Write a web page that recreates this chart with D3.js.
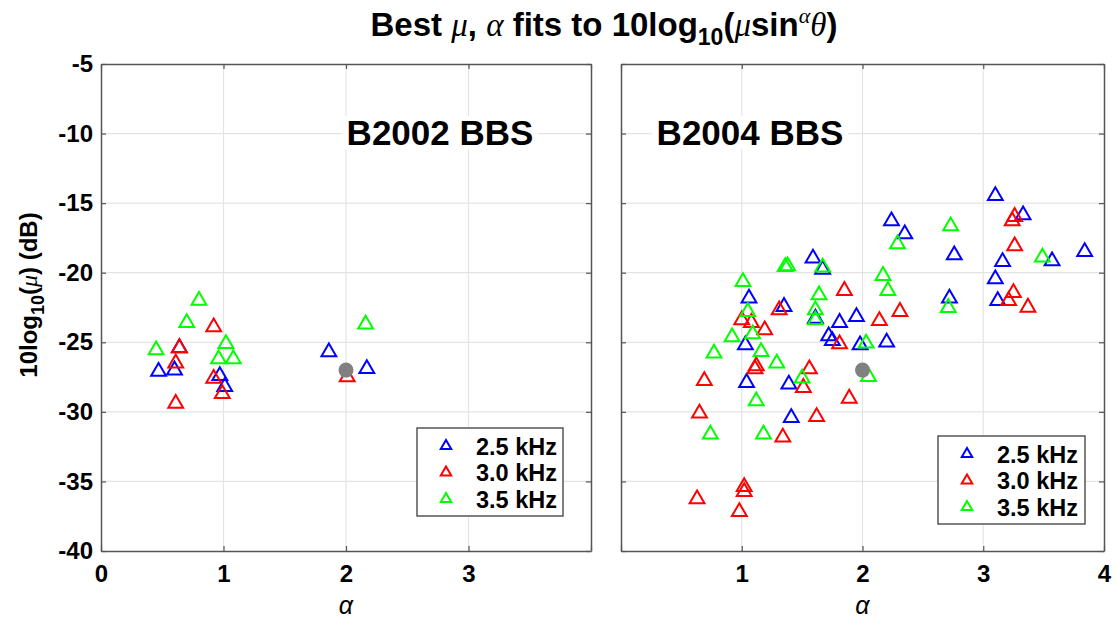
<!DOCTYPE html>
<html>
<head>
<meta charset="utf-8">
<script src="https://d3js.org/d3.v7.min.js"></script>
<style>
  body { margin: 0; background: #fff; }
  text { font-family: "Liberation Sans", Arial, sans-serif; }
</style>
</head>
<body>
<div id="chart"></div>
<script>
// ---- data (alpha, 10log10(mu) in dB) ----
const alphaTicks = [0, 1, 2, 3, 4];
const dbTicks = [-40, -35, -30, -25, -20, -15, -10, -5];
const seriesNames = ["2.5 kHz", "3.0 kHz", "3.5 kHz"];
const seriesColors = ["#0000ff", "#ff0000", "#00ff00"];

// B2002 BBS
const b2002_25 = [[0.64,-25.4],[0.47,-27.1],[0.60,-27.0],[0.97,-27.4],[1.01,-28.2],[1.86,-25.7],[2.17,-26.9]];
const b2002_30 = [[0.92,-23.9],[0.64,-25.4],[0.61,-26.5],[0.92,-27.6],[0.99,-28.7],[0.61,-29.4],[2.01,-27.5]];
const b2002_35 = [[0.80,-22.0],[0.70,-23.6],[0.45,-25.55],[1.02,-25.1],[0.96,-26.2],[1.08,-26.2],[2.16,-23.7]];
const b2002_ref = [[2.0,-27.0]];

// B2004 BBS
const b2004_25 = [[1.59,-18.96],[1.67,-19.76],[1.06,-21.84],[1.35,-22.44],[1.61,-23.28],[1.81,-23.59],[1.95,-23.16],
  [1.72,-24.55],[1.75,-24.89],[1.03,-25.2],[1.98,-25.2],[3.10,-14.47],[3.33,-15.85],[2.24,-16.28],[2.35,-17.22],
  [2.76,-18.73],[3.16,-19.21],[3.57,-19.16],[3.84,-18.49],[3.10,-20.45],[2.72,-21.84],[3.12,-22.01],[2.20,-25.0],
  [1.04,-27.9],[1.39,-28.02],[1.41,-30.42]];
const b2004_30 = [[1.85,-21.29],[1.31,-22.68],[1.0,-23.4],[1.08,-23.59],[1.19,-24.12],[1.81,-25.12],[1.12,-26.7],
  [1.11,-26.92],[1.56,-26.92],[1.51,-28.26],[0.69,-27.76],[1.89,-29.03],[0.65,-30.1],[1.62,-30.35],[1.34,-31.83],
  [1.02,-35.38],[1.02,-35.74],[0.63,-36.26],[0.98,-37.18],[3.26,-15.97],[3.24,-16.28],[3.26,-18.08],[3.25,-21.44],
  [3.21,-22.01],[3.37,-22.49],[2.31,-22.8],[2.14,-23.45]];
const b2004_35 = [[1.36,-19.57],[1.38,-19.52],[1.67,-19.61],[1.01,-20.65],[1.64,-21.6],[1.61,-22.68],[1.61,-23.4],
  [1.05,-22.8],[0.92,-24.62],[1.09,-24.4],[1.16,-25.68],[0.77,-25.79],[1.29,-26.51],[1.50,-27.59],[1.12,-29.22],
  [0.74,-31.61],[1.18,-31.61],[2.05,-27.47],[2.73,-16.64],[2.29,-17.94],[3.49,-18.89],[2.17,-20.21],[2.21,-21.29],
  [2.71,-22.51],[2.03,-25.07]];
const b2004_ref = [[2.0,-27.0]];

const width = 1117, height = 619;
const plotTop = 64, plotBottom = 551;
const boxColor = "#555", gridColor = "#e4e4e4";

const svg = d3.create("svg").attr("width", width).attr("height", height);
document.getElementById("chart").appendChild(svg.node());

const yScale = d3.scaleLinear().domain([-40, -5]).range([plotBottom, plotTop]);

const panels = [
  { name: "B2002 BBS", x0: 101, x1: 591, labels: [0, 1, 2, 3], leftLabels: true,
    series: [b2002_25, b2002_30, b2002_35], ref: b2002_ref,
    legend: { x: 417, y: 428, w: 146, h: 88 }, tag: { x: 440, y: 132 } },
  { name: "B2004 BBS", x0: 621, x1: 1104, labels: [1, 2, 3, 4], leftLabels: false,
    series: [b2004_25, b2004_30, b2004_35], ref: b2004_ref,
    legend: { x: 938, y: 436, w: 147, h: 88 }, tag: { x: 750, y: 132 } }
];

const tri = d3.symbol().type(d3.symbolTriangle).size(95);
const triSmall = d3.symbol().type(d3.symbolTriangle).size(48);

panels.forEach(p => {
  const x = d3.scaleLinear().domain([0, 4]).range([p.x0, p.x1]);
  const g = svg.append("g");

  // grid
  g.append("g").selectAll("line").data(alphaTicks.slice(1, -1)).join("line")
    .attr("x1", d => x(d)).attr("x2", d => x(d)).attr("y1", plotTop).attr("y2", plotBottom)
    .attr("stroke", gridColor).attr("stroke-width", 1.2);
  g.append("g").selectAll("line").data(dbTicks.slice(1, -1)).join("line")
    .attr("x1", p.x0).attr("x2", p.x1).attr("y1", d => yScale(d)).attr("y2", d => yScale(d))
    .attr("stroke", gridColor).attr("stroke-width", 1.2);

  // panel tag with white background
  const tagBg = g.append("rect").attr("fill", "#fff");
  const tag = g.append("text").attr("x", p.tag.x).attr("y", p.tag.y + 13)
    .attr("text-anchor", "middle").attr("font-size", 35).attr("font-weight", "bold")
    .text(p.name);
  const b = tag.node().getBBox();
  tagBg.attr("x", b.x - 5).attr("y", b.y + 3).attr("width", b.width + 10).attr("height", b.height - 6);

  // axes: ticks inward, on all sides
  const xb = d3.axisBottom(x).tickValues(alphaTicks).tickSizeInner(-5).tickSizeOuter(0)
    .tickFormat(d => p.labels.includes(d) ? d : "");
  const gx = g.append("g").attr("transform", `translate(0,${plotBottom})`).call(xb);
  gx.selectAll("text").attr("font-size", 24).attr("font-weight", "bold").attr("fill", "#000").attr("y", 14);
  g.append("g").attr("transform", `translate(0,${plotTop})`)
    .call(d3.axisTop(x).tickValues(alphaTicks).tickSizeInner(-5).tickSizeOuter(0).tickFormat(""));
  const yl = d3.axisLeft(yScale).tickValues(dbTicks).tickSizeInner(-5).tickSizeOuter(0)
    .tickFormat(d => p.leftLabels ? d : "");
  const gy = g.append("g").attr("transform", `translate(${p.x0},0)`).call(yl);
  gy.selectAll("text").attr("font-size", 24).attr("font-weight", "bold").attr("fill", "#000").attr("x", -8);
  g.append("g").attr("transform", `translate(${p.x1},0)`)
    .call(d3.axisRight(yScale).tickValues(dbTicks).tickSizeInner(-5).tickSizeOuter(0).tickFormat(""));
  g.selectAll(".domain").attr("stroke", boxColor).attr("stroke-width", 1.5);
  g.selectAll(".tick line").attr("stroke", boxColor).attr("stroke-width", 1.2);

  // x label
  g.append("text").attr("x", (p.x0 + p.x1) / 2).attr("y", 614).attr("text-anchor", "middle")
    .attr("font-family", "Liberation Serif, serif").attr("font-style", "italic").attr("font-size", 25)
    .text("α");

  // points
  p.series.forEach((s, i) => {
    g.append("g").selectAll("path").data(s).join("path")
      .attr("transform", d => `translate(${x(d[0])},${yScale(d[1])})`)
      .attr("d", tri()).attr("fill", "none")
      .attr("stroke", seriesColors[i]).attr("stroke-width", 2);
  });
  g.append("g").selectAll("circle").data(p.ref).join("circle")
    .attr("cx", d => x(d[0])).attr("cy", d => yScale(d[1])).attr("r", 7.5).attr("fill", "#808080");

  // legend
  const lg = g.append("g").attr("transform", `translate(${p.legend.x},${p.legend.y})`);
  lg.append("rect").attr("width", p.legend.w).attr("height", p.legend.h)
    .attr("fill", "#fff").attr("stroke", boxColor).attr("stroke-width", 1.5);
  seriesNames.forEach((n, i) => {
    const yy = 18 + i * 26.5;
    lg.append("path").attr("transform", `translate(29,${yy})`).attr("d", triSmall())
      .attr("fill", "none").attr("stroke", seriesColors[i]).attr("stroke-width", 2);
    lg.append("text").attr("x", 59).attr("y", yy + 8.5).attr("font-size", 23.5).attr("font-weight", "bold")
      .text(n);
  });
});

// title
const serifIt = s => s.attr("font-family", "Liberation Serif, serif").attr("font-style", "italic").attr("font-weight", "normal");
const title = svg.append("text").attr("x", 604).attr("y", 36).attr("text-anchor", "middle")
  .attr("font-size", 33).attr("font-weight", "bold");
title.append("tspan").text("Best ");
title.append("tspan").call(serifIt).text("μ");
title.append("tspan").text(", ");
title.append("tspan").call(serifIt).text("α");
title.append("tspan").text(" fits to 10log");
title.append("tspan").attr("dy", 9).attr("font-size", 23).text("10");
title.append("tspan").attr("dy", -9).text("(");
title.append("tspan").call(serifIt).text("μ");
title.append("tspan").text("sin");
title.append("tspan").attr("dy", -13).attr("font-size", 22).call(serifIt).text("α");
title.append("tspan").attr("dy", 13).call(serifIt).text("θ");
title.append("tspan").text(")");

// y label
const ylab = svg.append("text").attr("transform", "translate(37,295) rotate(-90)").attr("text-anchor", "middle")
  .attr("font-size", 24).attr("font-weight", "bold");
ylab.append("tspan").text("10log");
ylab.append("tspan").attr("dy", 7).attr("font-size", 18).text("10");
ylab.append("tspan").attr("dy", -7).text("(");
ylab.append("tspan").call(serifIt).text("μ");
ylab.append("tspan").text(") (dB)");
</script>
</body>
</html>
